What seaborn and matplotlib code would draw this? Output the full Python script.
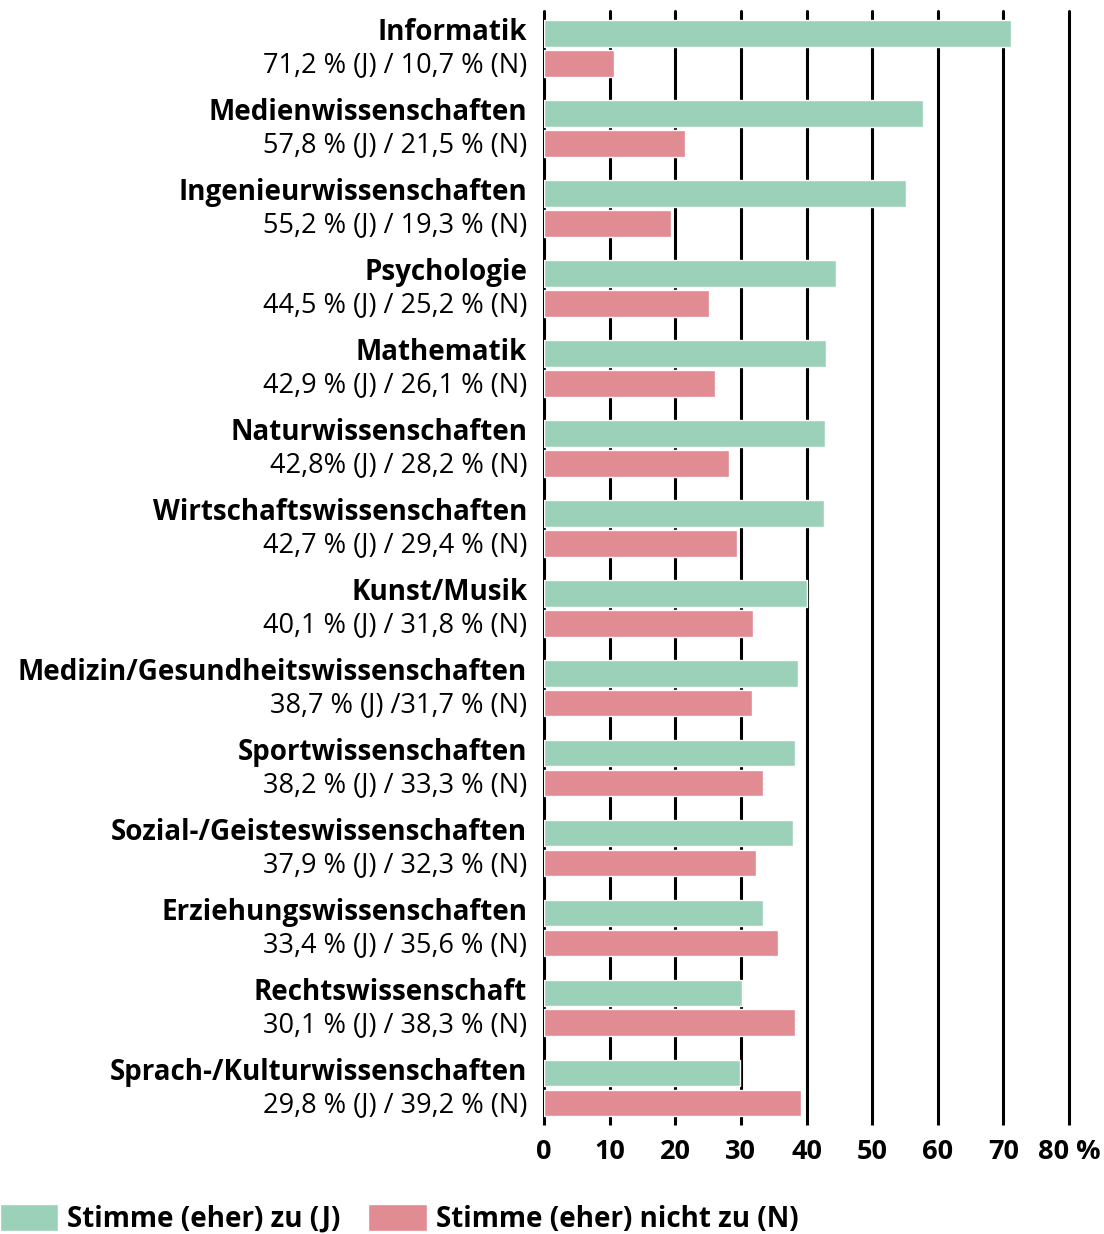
import pandas as pd
import seaborn as sns
import matplotlib.pyplot as plt
from matplotlib.patches import Patch

# Data
faecher = ['Informatik', 'Medienwissenschaften', 'Ingenieurwissenschaften',
           'Psychologie', 'Mathematik', 'Naturwissenschaften',
           'Wirtschaftswissenschaften', 'Kunst/Musik',
           'Medizin/Gesundheitswissenschaften', 'Sportwissenschaften',
           'Sozial-/Geisteswissenschaften', 'Erziehungswissenschaften',
           'Rechtswissenschaft', 'Sprach-/Kulturwissenschaften']
ja = [71.2, 57.8, 55.2, 44.5, 42.9, 42.8, 42.7, 40.1, 38.7, 38.2, 37.9, 33.4, 30.1, 29.8]
nein = [10.7, 21.5, 19.3, 25.2, 26.1, 28.2, 29.4, 31.8, 31.7, 33.3, 32.3, 35.6, 38.3, 39.2]
wert_labels = ['71,2 % (J) / 10,7 % (N)', '57,8 % (J) / 21,5 % (N)',
               '55,2 % (J) / 19,3 % (N)', '44,5 % (J) / 25,2 % (N)',
               '42,9 % (J) / 26,1 % (N)', '42,8% (J) / 28,2 % (N)',
               '42,7 % (J) / 29,4 % (N)', '40,1 % (J) / 31,8 % (N)',
               '38,7 % (J) /31,7 % (N)', '38,2 % (J) / 33,3 % (N)',
               '37,9 % (J) / 32,3 % (N)', '33,4 % (J) / 35,6 % (N)',
               '30,1 % (J) / 38,3 % (N)', '29,8 % (J) / 39,2 % (N)']
x_ticks = [0, 10, 20, 30, 40, 50, 60, 70, 80]
x_ticklabels = ['0', '10', '20', '30', '40', '50', '60', '70', '80 %']
serien = ['Stimme (eher) zu (J)', 'Stimme (eher) nicht zu (N)']

gruen = '#9bd1b9'
rot = '#e18b93'

df = pd.DataFrame({
    'Fach': faecher * 2,
    'Anteil': ja + nein,
    'Antwort': [serien[0]] * len(faecher) + [serien[1]] * len(faecher),
})

sns.set_style('white')
plt.rcParams['font.family'] = ['Open Sans', 'DejaVu Sans']
plt.rcParams['text.color'] = 'black'
plt.rcParams['xtick.color'] = 'black'

fig = plt.figure(figsize=(11.04, 12.34), dpi=100)
ax = fig.add_axes([544 / 1104, 1 - 1118 / 1234, 525 / 1104, (1118 - 11) / 1234])

sns.barplot(data=df, y='Fach', x='Anteil', hue='Antwort', orient='h',
            palette=[gruen, rot], width=0.75, gap=0.1, saturation=1,
            legend=False, ax=ax, zorder=2)

ax.set_xlim(0, 80)
ax.set_ylim(len(faecher) - 1 + 0.375, -0.4625)
ax.set_xticks(x_ticks)
ax.set_xticklabels(x_ticklabels, fontsize=19.5, fontweight='bold')
ax.set_yticks([])
ax.set_xlabel('')
ax.set_ylabel('')
for s in ax.spines.values():
    s.set_visible(False)
ax.xaxis.grid(True, color='black', linewidth=2.2, zorder=0)
ax.set_axisbelow(True)
for gl in ax.get_xgridlines():
    gl.set_clip_on(False)
ax.tick_params(axis='x', bottom=True, length=5, width=2.2, color='black', pad=10)

# two-line labels left of the bars
for i, (name, txt) in enumerate(zip(faecher, wert_labels)):
    ax.text(-0.032, i - 0.19, name, transform=ax.get_yaxis_transform(),
            ha='right', va='center', fontsize=20, fontweight='bold')
    ax.text(-0.032, i + 0.215, txt, transform=ax.get_yaxis_transform(),
            ha='right', va='center', fontsize=19.5)

handles = [Patch(facecolor=gruen, label=serien[0]), Patch(facecolor=rot, label=serien[1])]
fig.legend(handles=handles, loc='lower left', bbox_to_anchor=(0, 0.0), ncol=2,
           frameon=False, prop={'size': 20, 'weight': 'bold'},
           handlelength=2.1, handleheight=1.1, handletextpad=0.32,
           columnspacing=1.0, borderpad=0.0, borderaxespad=0.0)

fig.savefig('out.png', dpi=100)
